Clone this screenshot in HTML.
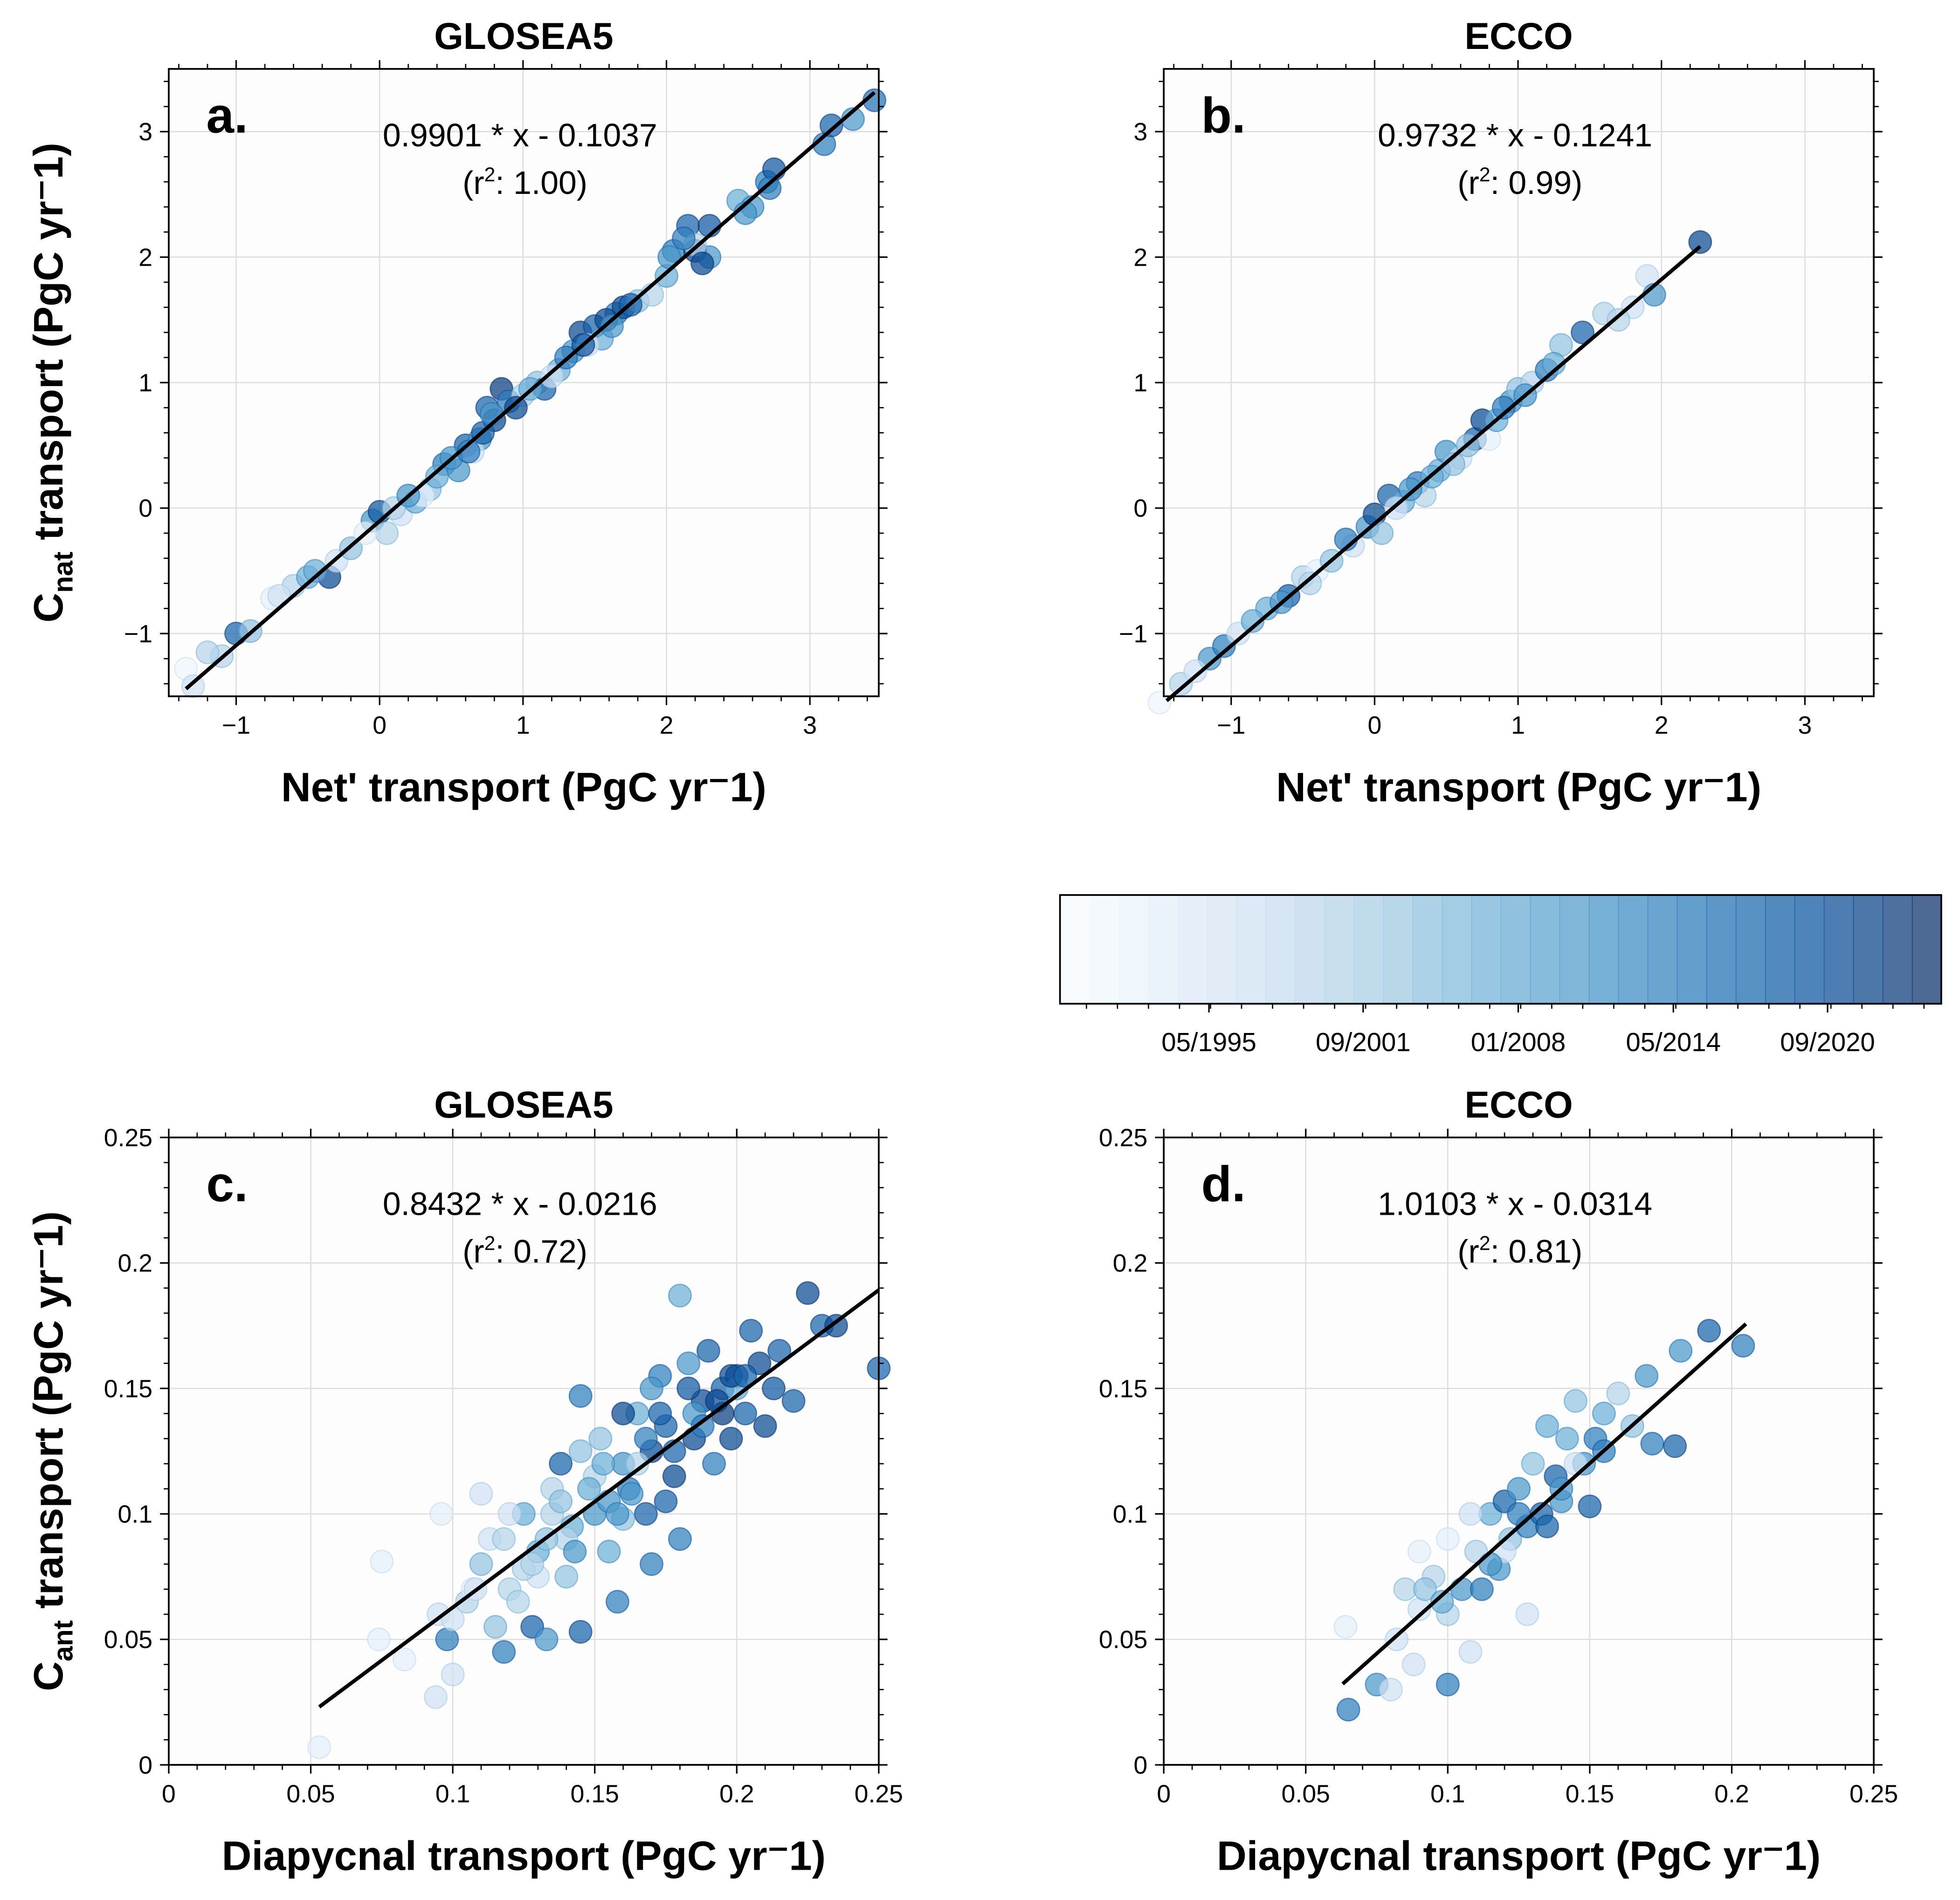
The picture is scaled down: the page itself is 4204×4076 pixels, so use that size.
<!DOCTYPE html>
<html><head><meta charset="utf-8"><style>
html,body{margin:0;padding:0;background:#fff}
svg{display:block}
text{font-family:"Liberation Sans",sans-serif}
</style></head><body>
<svg id="fig" width="4204" height="4076" viewBox="0 0 1568 1520" xmlns="http://www.w3.org/2000/svg"></svg>
<script>
const aX=[-1.35,-1.3,-1.1,-1.0,-0.9,-0.75,-0.6,-0.5,-0.35,-0.3,-0.2,-0.05,0,0.05,0.15,0.25,0.35,0.45,0.55,0.6,0.7,0.75,0.8,0.85,0.9,1.0,1.1,1.15,1.25,1.35,1.4,1.5,1.55,1.65,1.7,1.8,2.0,2.05,2.15,2.2,2.3,2.3,2.5,2.6,2.7,2.75,3.1,3.15,3.3,3.45,1.9,0.3,-0.1,1.2,0.65,1.45,2.2,-1.2,-0.7,-0.45,0.1,0.2,0.4,0.5,0.62,0.72,0.78,0.95,1.05,1.3,1.42,1.58,1.62,1.75,2.02,2.12,2.25,2.55,2.72];
const aY=[-1.28,-1.42,-1.18,-1.0,-0.98,-0.72,-0.62,-0.55,-0.55,-0.42,-0.32,-0.1,-0.03,-0.2,-0.05,0.05,0.15,0.35,0.3,0.5,0.55,0.8,0.7,0.95,0.85,0.9,1.0,0.95,1.1,1.25,1.4,1.45,1.35,1.55,1.6,1.65,1.85,2.05,2.25,2.05,2.0,2.25,2.45,2.4,2.6,2.7,2.9,3.05,3.1,3.25,1.7,0.1,-0.2,1.05,0.45,1.3,2.1,-1.15,-0.7,-0.5,0.0,0.1,0.25,0.4,0.45,0.6,0.75,0.8,0.95,1.2,1.3,1.5,1.45,1.62,2.0,2.15,1.95,2.35,2.55];
const aT=[0.05,0.2,0.3,0.8,0.4,0.1,0.3,0.5,0.9,0.2,0.4,0.6,0.85,0.3,0.2,0.5,0.4,0.7,0.6,0.8,0.6,0.8,0.9,0.95,0.7,0.3,0.4,0.8,0.5,0.6,0.9,0.8,0.5,0.7,0.9,0.4,0.5,0.7,0.8,0.9,0.6,0.85,0.5,0.6,0.7,0.85,0.7,0.8,0.6,0.75,0.3,0.1,0.1,0.2,0.2,0.2,0.3,0.3,0.2,0.5,0.3,0.6,0.5,0.6,0.7,0.8,0.6,0.9,0.5,0.7,0.85,0.9,0.6,0.8,0.6,0.7,0.9,0.6,0.7];
const bX=[-1.5,-1.35,-1.15,-1.05,-0.95,-0.75,-0.6,-0.5,-0.4,-0.3,-0.15,-0.05,0,0.05,0.1,0.2,0.3,0.35,0.45,0.5,0.6,0.7,0.75,0.8,0.85,0.95,1.0,1.1,1.2,1.3,1.45,1.6,1.8,1.9,1.95,2.27,0.15,0.55,-0.2,-1.25,-0.85,-0.65,-0.45,0.25,0.4,0.65,0.9,1.05,1.25,1.7];
const bY=[-1.55,-1.4,-1.2,-1.1,-1.0,-0.8,-0.7,-0.55,-0.5,-0.42,-0.3,-0.15,-0.05,-0.2,0.1,0.05,0.2,0.1,0.3,0.45,0.4,0.55,0.7,0.55,0.7,0.85,0.95,1.0,1.1,1.3,1.4,1.55,1.6,1.85,1.7,2.12,0.0,0.35,-0.25,-1.3,-0.9,-0.75,-0.6,0.15,0.25,0.5,0.8,0.9,1.15,1.5];
const bT=[0.05,0.3,0.6,0.7,0.2,0.5,0.8,0.3,0.1,0.4,0.2,0.6,0.9,0.4,0.8,0.5,0.7,0.3,0.5,0.6,0.2,0.8,0.9,0.1,0.5,0.6,0.4,0.3,0.7,0.4,0.8,0.3,0.2,0.2,0.6,0.9,0.2,0.4,0.7,0.2,0.5,0.6,0.3,0.6,0.5,0.4,0.7,0.6,0.5,0.3];
const cX=[0.053,0.075,0.074,0.083,0.094,0.096,0.1,0.095,0.098,0.105,0.11,0.11,0.113,0.115,0.118,0.12,0.125,0.128,0.13,0.133,0.135,0.138,0.14,0.142,0.145,0.145,0.15,0.152,0.155,0.158,0.16,0.162,0.165,0.168,0.17,0.17,0.173,0.175,0.178,0.18,0.18,0.183,0.185,0.188,0.19,0.192,0.195,0.198,0.2,0.203,0.205,0.208,0.21,0.213,0.215,0.22,0.225,0.23,0.235,0.25,0.12,0.13,0.14,0.15,0.16,0.1,0.107,0.125,0.135,0.145,0.155,0.165,0.175,0.185,0.16,0.17,0.195,0.2,0.108,0.118,0.128,0.138,0.148,0.158,0.168,0.178,0.188,0.198,0.143,0.153,0.163,0.173,0.183,0.193,0.203,0.123,0.133];
const cY=[0.007,0.081,0.05,0.042,0.027,0.1,0.036,0.06,0.05,0.065,0.08,0.108,0.09,0.055,0.045,0.07,0.1,0.055,0.085,0.05,0.11,0.12,0.075,0.095,0.053,0.147,0.1,0.13,0.085,0.065,0.12,0.11,0.14,0.1,0.125,0.08,0.155,0.135,0.115,0.187,0.09,0.16,0.13,0.145,0.165,0.12,0.15,0.13,0.155,0.14,0.173,0.16,0.135,0.15,0.165,0.145,0.188,0.175,0.175,0.158,0.1,0.075,0.09,0.115,0.098,0.058,0.07,0.078,0.1,0.125,0.105,0.12,0.105,0.14,0.14,0.15,0.14,0.15,0.07,0.09,0.08,0.105,0.11,0.1,0.13,0.125,0.135,0.155,0.085,0.12,0.108,0.14,0.15,0.145,0.155,0.065,0.09];
const cT=[0.1,0.1,0.1,0.1,0.2,0.1,0.2,0.2,0.7,0.3,0.4,0.2,0.2,0.4,0.7,0.3,0.5,0.8,0.5,0.6,0.3,0.8,0.4,0.5,0.8,0.7,0.6,0.4,0.5,0.7,0.6,0.7,0.5,0.8,0.9,0.7,0.7,0.8,0.9,0.5,0.7,0.6,0.9,0.9,0.8,0.7,0.8,0.9,0.9,0.8,0.8,0.9,0.9,0.85,0.8,0.8,0.9,0.8,0.9,0.8,0.2,0.2,0.3,0.3,0.4,0.2,0.1,0.3,0.3,0.4,0.6,0.3,0.8,0.6,0.9,0.6,0.95,0.5,0.2,0.3,0.3,0.4,0.5,0.6,0.7,0.8,0.7,0.9,0.6,0.5,0.6,0.8,0.85,0.9,0.8,0.3,0.4];
const dX=[0.064,0.065,0.075,0.08,0.082,0.085,0.088,0.09,0.09,0.095,0.1,0.1,0.1,0.105,0.108,0.11,0.112,0.115,0.118,0.12,0.122,0.125,0.128,0.128,0.13,0.133,0.135,0.138,0.14,0.142,0.145,0.148,0.15,0.152,0.155,0.16,0.165,0.17,0.172,0.18,0.182,0.192,0.204,0.145,0.12,0.108,0.135,0.092,0.098,0.115,0.125,0.14,0.155];
const dY=[0.055,0.022,0.032,0.03,0.05,0.07,0.04,0.062,0.085,0.075,0.032,0.09,0.06,0.07,0.045,0.085,0.07,0.1,0.078,0.105,0.09,0.11,0.06,0.095,0.12,0.1,0.135,0.115,0.105,0.13,0.145,0.12,0.103,0.13,0.14,0.148,0.135,0.155,0.128,0.127,0.165,0.173,0.167,0.12,0.085,0.1,0.095,0.07,0.065,0.08,0.1,0.11,0.125];
const dT=[0.1,0.7,0.6,0.2,0.2,0.3,0.2,0.2,0.1,0.3,0.7,0.1,0.3,0.6,0.2,0.3,0.7,0.5,0.6,0.8,0.4,0.6,0.2,0.7,0.4,0.8,0.5,0.8,0.6,0.5,0.4,0.6,0.8,0.7,0.5,0.3,0.4,0.6,0.7,0.8,0.6,0.8,0.7,0.2,0.2,0.2,0.8,0.4,0.5,0.6,0.7,0.6,0.7];
const fitA=[0.9901,-0.1037,-1.35,3.45], fitB=[0.9732,-0.1241,-1.45,2.27], fitC=[0.8432,-0.0216,0.053,0.25], fitD=[1.0103,-0.0314,0.063,0.205];
const cbTicks=["05/1995","09/2001","01/2008","05/2014","09/2020"];
const cbTickFrac=[0.169,0.344,0.52,0.696,0.871];

const NS="http://www.w3.org/2000/svg", svgRoot=document.getElementById('fig');
function mk(tag,at,parent){const e=document.createElementNS(NS,tag);for(const k in at)e.setAttribute(k,at[k]);(parent||svgRoot).appendChild(e);return e;}
const stops=[[247,251,255],[222,235,247],[198,219,239],[158,202,225],[107,174,214],[66,146,198],[33,113,181],[8,81,156],[8,48,107]];
function cmap(t){t=Math.max(0,Math.min(1,t))*(stops.length-1);const i=Math.min(Math.floor(t),stops.length-2),f=t-i;const c=stops[i].map((v,k)=>Math.round(v+(stops[i+1][k]-v)*f));return `rgb(${c[0]},${c[1]},${c[2]})`;}
function fmt(v){let s=(Math.round(v*1000)/1000).toString();return v<0?'\u2212'+s.slice(1):s;}

function panel(o){
  const g=mk('g',{});
  
  
  const sx=v=>o.x0+(v-o.xd[0])/(o.xd[1]-o.xd[0])*(o.x1-o.x0);
  const sy=v=>o.y1-(v-o.yd[0])/(o.yd[1]-o.yd[0])*(o.y1-o.y0);
  const bg=mk('rect',{x:o.x0,y:o.y0,width:o.x1-o.x0,height:o.y1-o.y0,fill:'#fdfdfd'},g);
  
  o.xt.forEach(v=>{mk('line',{x1:sx(v),x2:sx(v),y1:o.y0,y2:o.y1,stroke:'#dedede','stroke-width':1},g);});
  o.yt.forEach(v=>{mk('line',{y1:sy(v),y2:sy(v),x1:o.x0,x2:o.x1,stroke:'#dedede','stroke-width':1},g);});
  for(let i=0;i<o.px.length;i++){
    const c=mk('circle',{cx:sx(o.px[i]),cy:sy(o.py[i]),r:9,fill:cmap(o.pt[i]),'fill-opacity':0.72,stroke:cmap(o.pt[i]+0.15),'stroke-opacity':0.6,'stroke-width':1},g);
    
    
  }
  const f=o.fit;
  const ln=mk('line',{x1:sx(f[2]),y1:sy(f[0]*f[2]+f[1]),x2:sx(f[3]),y2:sy(f[0]*f[3]+f[1]),stroke:'#000','stroke-width':3},g);
  
  mk('rect',{x:o.x0,y:o.y0,width:o.x1-o.x0,height:o.y1-o.y0,fill:'none',stroke:'#000','stroke-width':1.4},g);
  o.xt.forEach(v=>{const X=sx(v);mk('line',{x1:X,x2:X,y1:o.y1,y2:o.y1+7,stroke:'#000','stroke-width':1.2},g);mk('line',{x1:X,x2:X,y1:o.y0,y2:o.y0-7,stroke:'#000','stroke-width':1.2},g);
    const t=mk('text',{x:X,y:o.y1+30,'font-size':20,'text-anchor':'middle'},g);t.textContent=fmt(v);});
  o.yt.forEach(v=>{const Y=sy(v);mk('line',{y1:Y,y2:Y,x1:o.x0,x2:o.x0-7,stroke:'#000','stroke-width':1.2},g);mk('line',{y1:Y,y2:Y,x1:o.x1,x2:o.x1+7,stroke:'#000','stroke-width':1.2},g);
    const t=mk('text',{x:o.x0-13,y:Y+7,'font-size':20,'text-anchor':'end'},g);t.textContent=fmt(v);});
  for(let v=o.xm[0];v<=o.xd[1]+1e-9;v+=o.xm[1]){if(v<o.xd[0])continue;const X=sx(v);mk('line',{x1:X,x2:X,y1:o.y1,y2:o.y1+4,stroke:'#000'},g);mk('line',{x1:X,x2:X,y1:o.y0,y2:o.y0-4,stroke:'#000'},g);}
  for(let v=o.ym[0];v<=o.yd[1]+1e-9;v+=o.ym[1]){if(v<o.yd[0])continue;const Y=sy(v);mk('line',{y1:Y,y2:Y,x1:o.x0,x2:o.x0-4,stroke:'#000'},g);mk('line',{y1:Y,y2:Y,x1:o.x1,x2:o.x1+4,stroke:'#000'},g);}
  const cx=(o.x0+o.x1)/2;
  let t=mk('text',{x:cx,y:o.y0-16,'font-size':30,'font-weight':'bold','text-anchor':'middle'},g);t.textContent=o.title;
  t=mk('text',{x:o.x0+30,y:o.y0+51,'font-size':40,'font-weight':'bold'},g);t.textContent=o.label;
  t=mk('text',{x:o.x0+281,y:o.y0+62,'font-size':26,'text-anchor':'middle'},g);t.textContent=o.eq;
  t=mk('text',{x:o.x0+285,y:o.y0+100,'font-size':26,'text-anchor':'middle'},g);
  t.innerHTML='(r<tspan font-size="16" dy="-10">2</tspan><tspan dy="10">: '+o.r2+')</tspan>';
  t=mk('text',{x:cx,y:o.y1+84,'font-size':33,'font-weight':'bold','text-anchor':'middle'},g);t.textContent=o.xlab;
  if(o.ylab){t=mk('text',{x:0,y:0,'font-size':33,'font-weight':'bold','text-anchor':'middle',transform:`translate(50,${(o.y0+o.y1)/2}) rotate(-90)`},g);
    t.innerHTML='C<tspan font-size="22" dy="8">'+o.ylab+'</tspan><tspan dy="-8"> transport (PgC yr\u207B1)</tspan>';}
}
const topCfg={y0:55,y1:557,xd:[-1.47,3.48],yd:[-1.5,3.5],xt:[-1,0,1,2,3],yt:[-1,0,1,2,3],xm:[-1.4,0.2],ym:[-1.4,0.2],xlab:"Net' transport (PgC yr\u207B1)"};
const botCfg={y0:910,y1:1412,xd:[0,0.25],yd:[0,0.25],xt:[0,0.05,0.1,0.15,0.2,0.25],yt:[0,0.05,0.1,0.15,0.2,0.25],xm:[0,0.01],ym:[0,0.01],xlab:"Diapycnal transport (PgC yr\u207B1)"};
panel(Object.assign({},topCfg,{name:'panel-a',x0:135,x1:703,px:aX,py:aY,pt:aT,fit:fitA,title:'GLOSEA5',label:'a.',eq:'0.9901 * x - 0.1037',r2:'1.00',ylab:'nat'}));
panel(Object.assign({},topCfg,{name:'panel-b',x0:931,x1:1499,px:bX,py:bY,pt:bT,fit:fitB,title:'ECCO',label:'b.',eq:'0.9732 * x - 0.1241',r2:'0.99'}));
panel(Object.assign({},botCfg,{name:'panel-c',x0:135,x1:703,px:cX,py:cY,pt:cT,fit:fitC,title:'GLOSEA5',label:'c.',eq:'0.8432 * x - 0.0216',r2:'0.72',ylab:'ant'}));
panel(Object.assign({},botCfg,{name:'panel-d',x0:931,x1:1499,px:dX,py:dY,pt:dT,fit:fitD,title:'ECCO',label:'d.',eq:'1.0103 * x - 0.0314',r2:'0.81'}));
const cb=mk('g',{});


const cbx0=848,cbx1=1553,cby0=716,cby1=803,N=30;
for(let i=0;i<N;i++){const w=(cbx1-cbx0)/N;const r=mk('rect',{x:cbx0+i*w,y:cby0,width:w+0.6,height:cby1-cby0,fill:cmap(i/(N-1)),'fill-opacity':0.72},cb);}
mk('rect',{x:cbx0,y:cby0,width:cbx1-cbx0,height:cby1-cby0,fill:'none',stroke:'#000','stroke-width':1.4},cb);
cbTicks.forEach((s,i)=>{const X=cbx0+cbTickFrac[i]*(cbx1-cbx0);mk('line',{x1:X,x2:X,y1:cby1,y2:cby1+7,stroke:'#000','stroke-width':1.2},cb);
  const t=mk('text',{x:X,y:cby1+38,'font-size':21,'text-anchor':'middle'},cb);t.textContent=s;});
for(let v=0.03;v<1;v+=0.0352){const X=cbx0+v*(cbx1-cbx0);mk('line',{x1:X,x2:X,y1:cby1,y2:cby1+4,stroke:'#000'},cb);}
</script>
</body></html>
